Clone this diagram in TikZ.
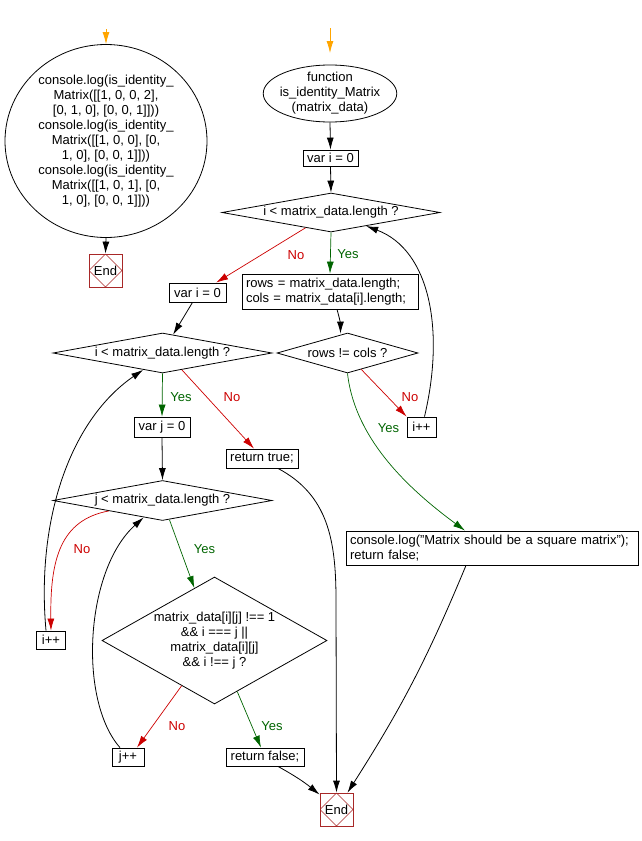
\documentclass[tikz,border=0pt]{standalone}
\usepackage{fontspec}
\setmainfont{Liberation Sans}
\usetikzlibrary{shapes.geometric,arrows.meta}
\definecolor{nored}{RGB}{204,0,0}
\definecolor{yesgreen}{RGB}{0,100,0}
\definecolor{endred}{RGB}{168,40,40}
\definecolor{startor}{RGB}{255,165,0}
\begin{document}
\begin{tikzpicture}[x=1pt,y=-1pt, line width=0.8pt,
 every node/.style={font=\fontsize{13}{15}\selectfont, inner sep=0pt},
 box/.style={draw, rectangle, align=center},
 dia/.style={draw, diamond, align=center},
 arr/.style={-{Latex[length=12pt,width=7pt]}},
 yesarr/.style={arr, draw=yesgreen, line width=0.7pt},
 noarr/.style={arr, draw=nored, line width=0.7pt},
 ylab/.style={text=yesgreen},
 nlab/.style={text=nored},
 endbox/.style={draw=endred, rectangle, minimum width=33pt, minimum height=33pt,
   path picture={\draw[endred, line width=0.6pt] (path picture bounding box.north) -- (path picture bounding box.east) -- (path picture bounding box.south) -- (path picture bounding box.west) -- cycle;}}
]
\useasboundingbox (0,0) rectangle (641,841);

% left column: calls
\node[draw, ellipse, minimum width=202pt, minimum height=193pt, align=center] (circ) at (106,141)
 {console.log(is\_identity\_\\Matrix([[1, 0, 0, 2],\\{}[0, 1, 0], [0, 0, 1]]))\\console.log(is\_identity\_\\Matrix([[1, 0, 0], [0,\\1, 0], [0, 0, 1]]))\\console.log(is\_identity\_\\Matrix([[1, 0, 1], [0,\\1, 0], [0, 0, 1]]))};
\node[endbox] (endL) at (105.5,270.5) {End};
\coordinate (s1) at (106,29);

% function
\node[draw, ellipse, inner sep=-3pt, minimum width=132pt, minimum height=57pt, align=center] (fn) at (330,93.5)
 {function\\is\_identity\_Matrix\\(matrix\_data)};
\coordinate (s2) at (330,28);
\coordinate (t2) at (330,53);
\node[box, minimum width=55pt, minimum height=16pt] (vi1) at (330.5,158) {var i = 0};
\node[dia, shape aspect=5.6, minimum width=218pt, minimum height=39pt] (d1) at (331,212.5) {i < matrix\_data.length ?};
\node[box, minimum height=35pt, text width=168pt, inner xsep=4pt, align=left] (rows) at (330,291.5)
 {rows = matrix\_data.length;\\cols = matrix\_data[i].length;};
\node[dia, shape aspect=3.5, minimum width=141pt, minimum height=40pt] (drc) at (347.5,353) {rows != cols ?};
\node[box, minimum width=29pt, minimum height=20pt] (ipp1) at (421.5,427) {i++};
\node[box, minimum height=34pt, text width=284pt, inner xsep=4pt, align=left] (cons) at (492,548)
 {console.log("Matrix should be a square matrix");\\return false;};

% second loop
\node[box, minimum width=57pt, minimum height=19pt] (vi2) at (197.5,292.5) {var i = 0};
\node[dia, shape aspect=5.6, minimum width=219pt, minimum height=40pt] (d2) at (162.5,353) {i < matrix\_data.length ?};
\node[box, minimum width=56pt, minimum height=20pt] (vj) at (162,427) {var j = 0};
\node[box, minimum width=72pt, minimum height=19pt] (rt) at (262,458.5) {return true;};
\node[dia, shape aspect=5.6, minimum width=219pt, minimum height=40pt] (d3) at (162.5,500.5) {j < matrix\_data.length ?};
\node[box, minimum width=29pt, minimum height=18pt] (ipp2) at (51,640) {i++};
\node[dia, shape aspect=1.77, minimum width=225pt, minimum height=127pt] (d4) at (214.5,640.5)
 {matrix\_data[i][j] !== 1\\\&\& i === j ||\\matrix\_data[i][j]\\\&\& i !== j ?};
\node[box, minimum width=32pt, minimum height=18pt] (jpp) at (128,757) {j++};
\node[box, minimum width=78pt, minimum height=18pt] (rf) at (265,757) {return false;};
\node[endbox] (endR) at (336.5,809.5) {End};

% labels
\node[ylab] (ly1) at (348,254) {Yes};
\node[nlab] (ln1) at (296,255) {No};
\node[nlab] (ln2) at (410,397) {No};
\node[ylab] (ly2) at (388.5,428.5) {Yes};
\node[ylab] (ly3) at (181,397) {Yes};
\node[nlab] (ln3) at (232,397) {No};
\node[nlab] (ln4) at (82,549) {No};
\node[ylab] (ly4) at (204.5,549) {Yes};
\node[nlab] (ln5) at (177,726) {No};
\node[ylab] (ly5) at (272,726) {Yes};

% connectors
\draw[arr, draw=startor] (s1) -- (circ.north);
\draw[arr, draw=startor] (s2) -- (t2);
\draw[arr] (circ.south) -- (endL.north);
\draw[arr] (fn.south) -- (vi1.north);
\draw[arr] (vi1.south) -- (d1.north);
\draw[yesarr] (d1.south) -- (rows.north);
\draw[noarr] (d1.211) -- (vi2.28.5);
\draw[arr] ([xshift=7pt]rows.south) to[bend left=8] ([xshift=-7pt,yshift=-1pt]drc.north);
\draw[noarr] (drc.-50) -- (ipp1.north west);
\draw[yesarr] (drc.south) .. controls (355,440) and (410,490) .. ([xshift=-27pt]cons.north);
\draw[arr] ([xshift=3pt]ipp1.north) .. controls (445,330) and (430,250) .. (d1.-21);
\draw[arr] ([xshift=-5pt]vi2.south) -- (d2.60);
\draw[yesarr] (d2.south) -- (vj.north);
\draw[noarr] (d2.-41) -- ([xshift=-8pt]rt.north);
\draw[arr] ([xshift=16pt]rt.south) .. controls (328,495) and (336,540) .. (336,600) -- (endR.north);
\draw[arr] (vj.south) -- (d3.north);
\draw[yesarr] ([xshift=7pt,yshift=1pt]d3.south) -- (d4.111);
\draw[noarr] (d3.191) .. controls (60,520) and (50,560) .. (ipp2.north);
\draw[arr] ([xshift=-5pt]ipp2.north) .. controls (36,520) and (70,420) .. (d2.221);
\draw[noarr] (d4.234) -- ([xshift=9pt]jpp.north);
\draw[yesarr] (d4.-66) -- ([xshift=-4pt]rf.north);
\draw[arr] ([xshift=-8pt]jpp.north) .. controls (78,700) and (85,570) .. (d3.222);
\draw[arr] ([xshift=13pt]rf.south) to[bend left=5] ([yshift=-2pt]endR.north west);
\draw[arr] ([xshift=-26pt]cons.south) to[bend left=5] ([xshift=11pt]endR.north);
\end{tikzpicture}
\end{document}
